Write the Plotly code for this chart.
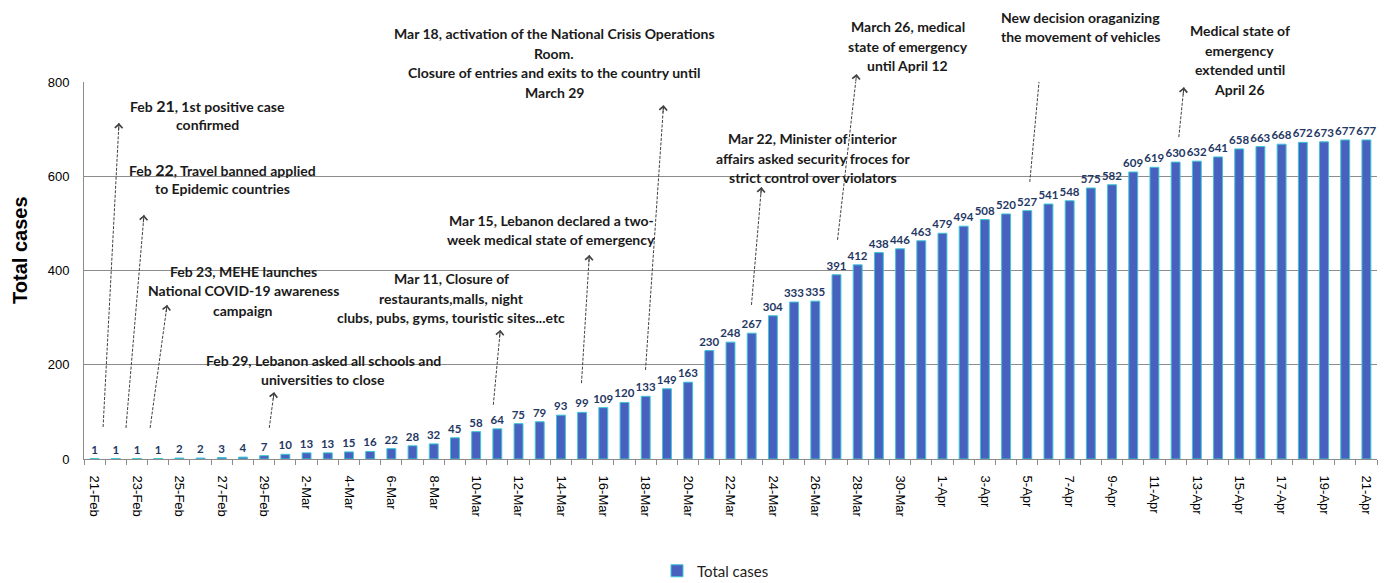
import math
import pandas as pd
import plotly.graph_objects as go

# ---------------- data ----------------
dates = pd.date_range("2020-02-21", "2020-04-21", freq="D")
date_labels = [f"{d.day}-{d.strftime('%b')}" for d in dates]
total_cases = [1, 1, 1, 1, 2, 2, 3, 4, 7,
               10, 13, 13, 15, 16, 22, 28, 32, 45, 58, 64, 75, 79, 93, 99, 109, 120,
               133, 149, 163, 230, 248, 267, 304, 333, 335, 391, 412, 438, 446, 463,
               479, 494, 508, 520, 527, 541, 548, 575, 582, 609, 619, 630, 632, 641,
               658, 663, 668, 672, 673, 677, 677]

event_texts = [
    "Feb <span style='font-size:16px'>21</span>, 1st positive case<br>confirmed",
    "Feb <span style='font-size:16px'>22</span>, Travel banned applied<br>to Epidemic countries",
    "Feb 23, MEHE launches<br>National COVID-19 awareness<br>campaign",
    "Feb 29, Lebanon asked all schools and<br>universities to close",
    "Mar 11, Closure of<br>restaurants,malls, night<br>clubs, pubs, gyms, touristic sites...etc",
    "Mar 15, Lebanon declared a two-<br>week medical state of emergency",
    "Mar 18, activation of the National Crisis Operations<br>Room.<br>Closure of entries and exits to the country until<br>March 29",
    "Mar 22, Minister of interior<br>affairs asked security froces for<br>strict control over violators",
    "March 26, medical<br>state of emergency<br>until April 12",
    "New decision oraganizing<br>the movement of vehicles",
    "Medical state of<br>emergency<br>extended until<br>April 26",
]
# text block centres: x in day-index units, y as fraction of plot height
event_text_x = [5.31, 6.02, 7.01, 10.78, 16.83, 21.55, 21.69, 33.87, 38.36, 46.53, 54.03]
event_text_y = [0.912, 0.743, 0.446, 0.236, 0.427, 0.607, 1.050, 0.798, 1.095, 1.146, 1.058]
# dotted arrows: tail (near bar) -> head (below text), in day-index / cases units
arrow_tail_x = [0.40, 1.48, 2.62, 8.24, 18.81, 22.97, 25.99, 30.99, 35.05, 44.12, 51.15]
arrow_tail_y = [68, 66, 66, 66, 115, 161, 189, 327, 465, 588, 683]
arrow_head_x = [1.15, 2.33, 3.42, 8.47, 19.14, 23.34, 26.84, 31.46, 35.95, 44.68, 51.39]
arrow_head_y = [713, 518, 327, 142, 274, 433, 751, 577, 817, 861, 789]

y_ticks = [0, 200, 400, 600, 800]

# ---------------- layout constants ----------------
# the page body has an 8px margin, so the figure starts 8px in
OFF = 8
W, H = 1389 - OFF, 583 - OFF
ML, MT = 76, 74
plot_w, plot_h = 1293, 377
MR = W - ML - plot_w
MB = H - MT - plot_h
px_x = plot_w / len(total_cases)
px_y = plot_h / 800.0
LINE_H = 19.5 / plot_h  # annotation line spacing in paper units

ANN_FONT = "Lato, Carlito, Calibri, sans-serif"
AX_FONT = "Liberation Sans, Arial, sans-serif"
ARROW_COL = "#404040"
GRID_COL = "#8C8C8C"

x_idx = list(range(len(total_cases)))

fig = go.Figure()
fig.add_trace(go.Bar(
    x=x_idx, y=total_cases, name="Total cases",
    width=0.42,
    marker=dict(color="#4860BE", line=dict(color="#3CC6D6", width=1)),
    text=[str(v) for v in total_cases], textposition="outside",
    textfont=dict(family=ANN_FONT, size=11.5, color="#1F3864", weight="bold"),
    constraintext="none", cliponaxis=False,
    hoverinfo="x+y",
))

annotations = []
shapes = []
for i, txt in enumerate(event_texts):
    lines = txt.split("<br>")
    n = len(lines)
    for k, ln in enumerate(lines):
        annotations.append(dict(
            x=event_text_x[i], y=event_text_y[i] + ((n - 1) / 2 - k) * LINE_H,
            xref="x", yref="paper",
            text=f"<b>{ln}</b>", showarrow=False, align="center",
            xanchor="center", yanchor="middle",
            font=dict(family=ANN_FONT, size=14, color="#1A1A1A"),
        ))
for i in range(len(arrow_tail_x)):
    tx, ty = arrow_tail_x[i], arrow_tail_y[i]
    hx, hy = arrow_head_x[i], arrow_head_y[i]
    shapes.append(dict(type="line", xref="x", yref="y", x0=tx, y0=ty, x1=hx, y1=hy,
                       line=dict(color=ARROW_COL, width=1, dash="3px,1.5px")))
    L = math.hypot((hx - tx) * px_x, (hy - ty) * px_y)
    f = 9.0 / L
    annotations.append(dict(
        x=hx, y=hy, xref="x", yref="y",
        ax=hx + (tx - hx) * f, ay=hy + (ty - hy) * f, axref="x", ayref="y",
        text="", showarrow=True, arrowhead=4, arrowsize=1.5, arrowwidth=1,
        arrowcolor=ARROW_COL, font=dict(size=1),
    ))

# y-axis title
annotations.append(dict(
    x=-(ML - (20 - OFF)) / plot_w, y=0.552, xref="paper", yref="paper",
    text="<b>Total cases</b>", textangle=-90, showarrow=False,
    xanchor="center", yanchor="middle",
    font=dict(family=AX_FONT, size=20, color="#000000"),
))

fig.update_layout(
    width=W, height=H,
    margin=dict(l=ML, r=MR, t=MT, b=MB, autoexpand=False),
    paper_bgcolor="white", plot_bgcolor="white",
    showlegend=True,
    legend=dict(orientation="h", xref="container", yref="container",
                x=(657 - OFF) / W, y=1 - (571 - OFF) / H, xanchor="left", yanchor="middle",
                font=dict(family=ANN_FONT, size=15, color="#222222")),
    annotations=annotations, shapes=shapes,
    bargap=0.58,
)
fig.update_xaxes(
    range=[-0.5, len(total_cases) - 0.5], automargin=False,
    tickmode="array", tickvals=x_idx[::2], ticktext=date_labels[::2],
    tickangle=90, ticks="", ticklabelstandoff=13,
    tickfont=dict(family=AX_FONT, size=13, color="#000000"),
    showline=True, linecolor=GRID_COL, linewidth=1,
    showgrid=False, zeroline=False,
    minor=dict(tickmode="linear", tick0=-0.5, dtick=1, ticks="outside", ticklen=5,
               tickcolor=GRID_COL, showgrid=False),
)
fig.update_yaxes(
    range=[0, 800], tickmode="array", tickvals=y_ticks, automargin=False,
    ticks="", ticklabelstandoff=11,
    tickfont=dict(family=AX_FONT, size=13, color="#000000"),
    showline=True, linecolor=GRID_COL, linewidth=1,
    showgrid=True, gridcolor=GRID_COL, gridwidth=1, zeroline=False,
)

fig.write_html("out.html")
